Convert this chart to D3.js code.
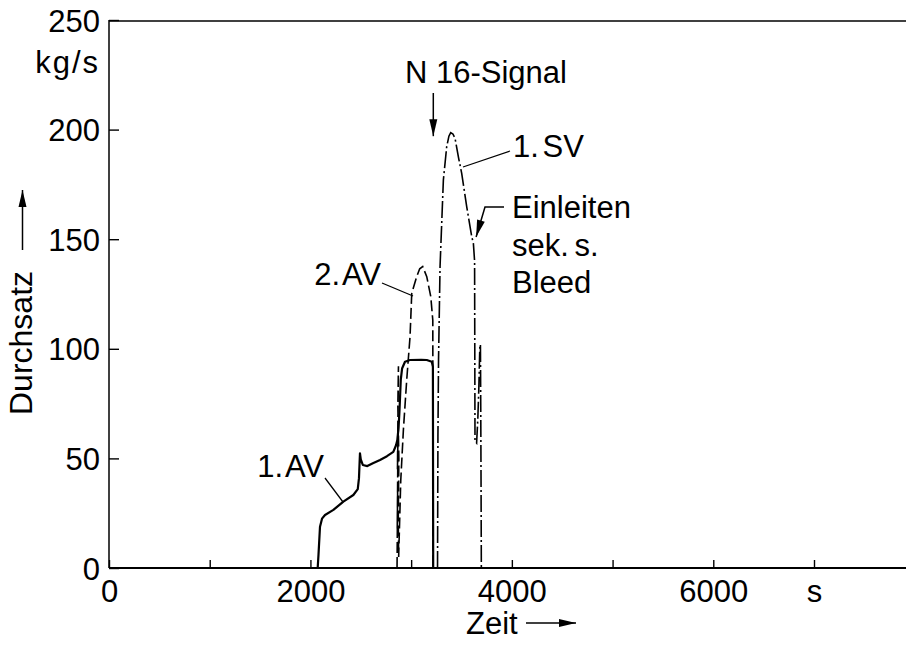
<!DOCTYPE html>
<html>
<head>
<meta charset="utf-8">
<script src="https://cdn.jsdelivr.net/npm/d3@7"></script>
<style>
  body { margin: 0; background: #fff; }
  text { font-family: "Liberation Sans", Arial, Helvetica, sans-serif; fill: #000; }
</style>
</head>
<body>
<script>
// tick values
var xTicks = [0, 1000, 2000, 3000, 4000, 5000, 6000, 7000];
var xLabels = ["0", "", "2000", "", "4000", "", "6000", "s"];
var yTicks = [0, 50, 100, 150, 200, 250];

// 1. AV (solid) : [Zeit s, Durchsatz kg/s]
var av1 = [[0, 0], [2072, 0], [2080, 6], [2095, 18.8], [2115, 22.5], [2145, 24.2], [2228, 26.5],
  [2327, 30.3], [2426, 33.3], [2470, 36], [2482, 41], [2488, 48], [2492, 52.3], [2500, 49.5],
  [2520, 47], [2565, 46.5], [2620, 47.8], [2691, 49.3], [2760, 51], [2823, 53], [2850, 56],
  [2863, 58.4], [2875, 64], [2883, 70.6], [2890, 78], [2897, 85.8], [2910, 91], [2939, 94.1],
  [2989, 94.9], [3100, 95], [3155, 94.9], [3205, 94.1], [3216, 91.8], [3219, 0], [7900, 0]];

// 2. AV (dashed)
var av2 = [[2860, 0], [2866, 35], [2862, 18], [2870, 62], [2864, 45], [2874, 92], [2868, 74],
  [2878, 50], [2872, 22], [2876, 5], [2897, 40], [2923, 63], [2956, 85.8], [2989, 105.5],
  [3006, 125.3], [3055, 132.9], [3085, 136.5], [3115, 137.5], [3155, 132.9], [3195, 123.8],
  [3215, 113], [3218, 0]];

// 1. SV (dash-dot)
var sv1 = [[3262, 0], [3266, 60], [3272, 95], [3287, 137.5], [3320, 177], [3353, 192.2],
  [3375, 197], [3393, 198.6], [3415, 198], [3436, 196], [3469, 187.6], [3502, 180], [3552, 164.8],
  [3602, 151.1], [3618, 148.1], [3630, 140], [3634, 58], [3650, 57], [3662, 68], [3672, 82],
  [3682, 101], [3688, 102], [3691, 75], [3694, 40], [3697, 0]];

var width = 906, height = 646;

var svg = d3.select("body").append("svg")
  .attr("width", width)
  .attr("height", height);

var x = d3.scaleLinear().domain([0, 7000]).range([109, 814]);
var y = d3.scaleLinear().domain([0, 250]).range([568, 20]);

// frame lines
svg.append("line").attr("x1", x(0)).attr("x2", width).attr("y1", y(0)).attr("y2", y(0))
  .attr("stroke", "#000").attr("stroke-width", 2);
svg.append("line").attr("x1", x(0)).attr("x2", x(0)).attr("y1", y(0)).attr("y2", y(250))
  .attr("stroke", "#000").attr("stroke-width", 1.5);
svg.append("line").attr("x1", x(0)).attr("x2", width).attr("y1", y(250) + 1).attr("y2", y(250) + 1)
  .attr("stroke", "#000").attr("stroke-width", 1.5);

// x axis
var xAxis = svg.append("g")
  .attr("transform", `translate(0, ${y(0)})`)
  .call(d3.axisBottom(x).tickValues(xTicks).tickSize(-8)
    .tickFormat((d, i) => xLabels[i]));
xAxis.select(".domain").remove();
xAxis.selectAll(".tick line").attr("stroke-width", 1.4);
xAxis.selectAll(".tick text")
  .attr("y", 34).attr("dy", 0)
  .style("font-size", "31px")
  .style("font-family", "'Liberation Sans', Arial, sans-serif");

// y axis
var yAxis = svg.append("g")
  .attr("transform", `translate(${x(0)}, 0)`)
  .call(d3.axisLeft(y).tickValues(yTicks).tickSize(-10));
yAxis.select(".domain").remove();
yAxis.selectAll(".tick line").attr("stroke-width", 1.4);
yAxis.selectAll(".tick text")
  .attr("x", -9).attr("dy", "0.36em")
  .style("font-size", "31px")
  .style("font-family", "'Liberation Sans', Arial, sans-serif");

// curves
var line = d3.line().x(d => x(d[0])).y(d => y(d[1]));

svg.append("path").datum(av1)
  .attr("d", line).attr("fill", "none")
  .attr("stroke", "#000").attr("stroke-width", 2.2).attr("stroke-linejoin", "round");

svg.append("path").datum(av2)
  .attr("d", line).attr("fill", "none")
  .attr("stroke", "#000").attr("stroke-width", 1.6)
  .attr("stroke-dasharray", "11,4");

svg.append("path").datum(sv1)
  .attr("d", line).attr("fill", "none")
  .attr("stroke", "#000").attr("stroke-width", 1.6)
  .attr("stroke-dasharray", "17,3,2,3");

// arrows
function arrow(pts) {
  svg.append("polyline")
    .attr("points", pts.map(p => p.join(",")).join(" "))
    .attr("fill", "none").attr("stroke", "#000").attr("stroke-width", 1.5);
  var a = pts[pts.length - 2], b = pts[pts.length - 1];
  var ang = Math.atan2(b[1] - a[1], b[0] - a[0]);
  var len = 17, hw = 4;
  var bx = b[0] - len * Math.cos(ang), by = b[1] - len * Math.sin(ang);
  var px = -Math.sin(ang) * hw, py = Math.cos(ang) * hw;
  svg.append("path")
    .attr("d", `M${b[0]},${b[1]}L${bx + px},${by + py}L${bx - px},${by - py}Z`)
    .attr("fill", "#000");
}

function label(txt, tx, ty, anchor) {
  return svg.append("text").attr("x", tx).attr("y", ty)
    .attr("text-anchor", anchor || "start")
    .style("font-size", "31px")
    .text(txt);
}

// N16 signal
label("N 16-Signal", 405, 83);
arrow([[x(3220), 93], [x(3220), y(197)]]);

// 1. SV
label("1. SV", 513, 157).style("word-spacing", "-5px");
svg.append("line").attr("x1", 510).attr("y1", 151).attr("x2", 463).attr("y2", 167)
  .attr("stroke", "#000").attr("stroke-width", 1.3);

// Einleiten sek. s. Bleed
label("Einleiten", 512, 218);
label("sek. s.", 512, 256).style("word-spacing", "-3px");
label("Bleed", 512, 293);
arrow([[504, 207], [485, 207], [x(3645), y(151)]]);

// 2. AV
label("2. AV", 381, 285, "end").style("word-spacing", "-5px");
svg.append("line").attr("x1", 382).attr("y1", 283).attr("x2", 413).attr("y2", 296)
  .attr("stroke", "#000").attr("stroke-width", 1.3);

// 1. AV
label("1. AV", 324, 477, "end").style("word-spacing", "-5px");
svg.append("line").attr("x1", 325).attr("y1", 478).attr("x2", 343).attr("y2", 502)
  .attr("stroke", "#000").attr("stroke-width", 1.3);

// unit and axis titles
svg.append("text").attr("x", 100).attr("y", 73).attr("text-anchor", "end")
  .style("font-size", "31px").style("letter-spacing", "2px").text("kg/s");

svg.append("text")
  .attr("transform", "translate(32, 415) rotate(-90)")
  .style("font-size", "32px")
  .text("Durchsatz");
arrow([[22.5, 250], [22.5, 190]]);

label("Zeit", 466, 634);
arrow([[526, 623], [576, 623]]);
</script>
</body>
</html>
